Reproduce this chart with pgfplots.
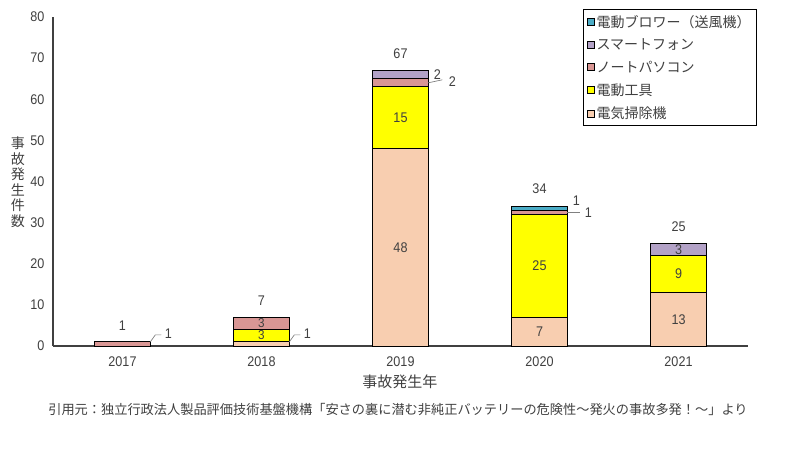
\documentclass[border=0pt]{standalone}
\usepackage{pgfplots}
\pgfplotsset{compat=1.18}
\usepackage{fontspec}
\setmainfont{Noto Sans CJK JP}
\newfontfamily\numfont[FakeStretch=0.9]{Liberation Sans}
\definecolor{cvac}{RGB}{248,206,176}
\definecolor{ctool}{RGB}{255,255,0}
\definecolor{cnote}{RGB}{217,150,148}
\definecolor{cphone}{RGB}{179,162,199}
\definecolor{cblow}{RGB}{75,172,198}
\definecolor{txt}{RGB}{64,64,64}
\tikzset{lbl/.style={font=\numfont\fontsize{14}{16}\selectfont, text=txt, inner sep=0pt}}
\begin{document}
\begin{tikzpicture}
\useasboundingbox (-53pt,-104pt) rectangle (747pt,346pt);
\begin{axis}[
    at={(0pt,0pt)}, anchor=south west,
    scale only axis, width=695pt, height=329pt,
    xmin=-0.5, xmax=4.5, ymin=0, ymax=80,
    ybar stacked, bar width=56pt,
    axis lines*=left,
    axis line style={draw=txt, line width=1.2pt},
    tick style={draw=none},
    ytick={0,10,...,80},
    xtick={0,1,2,3,4}, xticklabels={2017,2018,2019,2020,2021},
    ticklabel style={font=\numfont\fontsize{14}{16}\selectfont, text=txt},
    xticklabel style={yshift=-7pt},
    yticklabel style={xshift=-5pt},
    /pgf/number format/assume math mode=true,
    every axis x label/.style={at={(axis description cs:0.499,-0.108)}, anchor=center,
        font=\fontsize{15}{17}\selectfont, text=txt},
    every axis y label/.style={at={(axis description cs:-0.0504,0.498)}, anchor=center,
        align=center, font=\fontsize{14}{15.6}\selectfont, text=txt},
    xlabel={事故発生年},
    ylabel={事\\故\\発\\生\\件\\数},
    every axis plot/.append style={draw=black, line width=1pt},
    legend image code/.code={\draw[#1, line width=0.7pt] (0pt,-3.5pt) rectangle (7pt,3.5pt);},
    reverse legend,
    legend style={at={(1.013,1.024)}, anchor=north east, draw=black, line width=0.8pt,
        font=\fontsize{14}{16}\selectfont, text=txt, row sep=6pt,
        inner xsep=4pt, inner ysep=3.5pt},
    legend cell align=left,
]
\addplot[fill=cvac]   coordinates {(0,0) (1,1) (2,48) (3,7)  (4,13)};
\addlegendentry{電気掃除機}
\addplot[fill=ctool]  coordinates {(0,0) (1,3) (2,15) (3,25) (4,9)};
\addlegendentry{電動工具}
\addplot[fill=cnote]  coordinates {(0,1) (1,3) (2,2)  (3,1)  (4,0)};
\addlegendentry{ノートパソコン}
\addplot[fill=cphone] coordinates {(0,0) (1,0) (2,2)  (3,0)  (4,3)};
\addlegendentry{スマートフォン}
\addplot[fill=cblow]  coordinates {(0,0) (1,0) (2,0)  (3,1)  (4,0)};
\addlegendentry{電動ブロワー（送風機）}
% anchor points for labels
\coordinate (t0) at (axis cs:0,1);
\coordinate (t1) at (axis cs:1,7);
\coordinate (t2) at (axis cs:2,67);
\coordinate (t3) at (axis cs:3,34);
\coordinate (t4) at (axis cs:4,25);
\coordinate (a1) at (axis cs:1,2.7);
\coordinate (a2) at (axis cs:1,5.7);
\coordinate (b1) at (axis cs:2,24);
\coordinate (b2) at (axis cs:2,55.5);
\coordinate (c1) at (axis cs:3,3.5);
\coordinate (c2) at (axis cs:3,19.5);
\coordinate (d1) at (axis cs:4,6.5);
\coordinate (d2) at (axis cs:4,17.5);
\coordinate (d3) at (axis cs:4,23.5);
\coordinate (e0) at (axis cs:0.2,1);
\coordinate (e1) at (axis cs:1.2,1);
\coordinate (e2) at (axis cs:2.2,66);
\coordinate (e3) at (axis cs:2.2,64);
\coordinate (e4) at (axis cs:3.2,33.5);
\coordinate (e5) at (axis cs:3.2,32.5);
\end{axis}
% totals
\node[lbl, yshift=16pt] at (t0) {1};
\node[lbl, yshift=17pt] at (t1) {7};
\node[lbl, yshift=17pt] at (t2) {67};
\node[lbl, yshift=17pt] at (t3) {34};
\node[lbl, yshift=17pt] at (t4) {25};
% inside
\node[lbl, font=\numfont\fontsize{13}{14}\selectfont] at (a1) {3};
\node[lbl, font=\numfont\fontsize{13}{14}\selectfont] at (a2) {3};
\node[lbl] at (b1) {48};
\node[lbl] at (b2) {15};
\node[lbl] at (c1) {7};
\node[lbl] at (c2) {25};
\node[lbl] at (d1) {13};
\node[lbl] at (d2) {9};
\node[lbl] at (d3) {3};
% outside with leaders
\draw[gray, line width=0.7pt] (e0) -- ++(5pt,7pt) -- ++(6pt,0pt);
\node[lbl, xshift=18pt, yshift=8pt] at (e0) {1};
\draw[gray, line width=0.7pt] (e1) -- ++(5pt,7pt) -- ++(6pt,0pt);
\node[lbl, xshift=18pt, yshift=8pt] at (e1) {1};
\node[lbl, xshift=9pt] at (e2) {2};
\draw[gray, line width=0.7pt] (e3) -- ++(14pt,3pt);
\node[lbl, xshift=24pt, yshift=1pt] at (e3) {2};
\node[lbl, xshift=9pt, yshift=8pt] at (e4) {1};
\draw[gray, line width=0.7pt] (e5) -- ++(13pt,0pt);
\node[lbl, xshift=21pt] at (e5) {1};
\node[font=\fontsize{13.2}{15}\selectfont, text=txt] at (345pt,-64pt)
  {引用元：独立行政法人製品評価技術基盤機構「安さの裏に潜む非純正バッテリーの危険性～発火の事故多発！～」より};
\end{tikzpicture}
\end{document}
